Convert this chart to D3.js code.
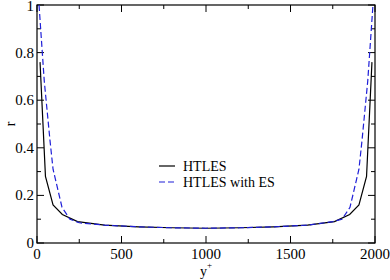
<!DOCTYPE html>
<html>
<head>
<meta charset="utf-8">
<script src="https://cdn.jsdelivr.net/npm/d3@7"></script>
<style>
  body { margin: 0; background: #fff; }
  svg text { font-family: 'Liberation Serif', 'Times New Roman', serif; }
</style>
</head>
<body>
<svg id="chart" width="390" height="280"></svg>
<script>
// y+ positions and r values
var htlesY = [18, 50, 95, 150, 240, 400, 600, 800, 1000, 1200, 1400, 1600, 1760, 1850, 1905, 1950, 1982]
var htlesR = [0.76, 0.28, 0.16, 0.12, 0.09, 0.075, 0.068, 0.064, 0.062, 0.064, 0.068, 0.075, 0.09, 0.12, 0.16, 0.28, 0.76]

var esY = [12, 43, 77, 95, 148, 195, 250, 400, 600, 800, 1000, 1200, 1400, 1600, 1750, 1805, 1852, 1905, 1923, 1957, 1988]
var esR = [1.0, 0.68, 0.43, 0.31, 0.15, 0.10, 0.085, 0.075, 0.068, 0.064, 0.062, 0.064, 0.068, 0.075, 0.09, 0.10, 0.15, 0.31, 0.43, 0.68, 1.0]

var xTicks = [0, 500, 1000, 1500, 2000]
var yTicks = [0, 0.2, 0.4, 0.6, 0.8, 1]
var seriesNames = ['HTLES', 'HTLES with ES']

var margin = {left: 37, right: 15, top: 5, bottom: 37}
var width = 390, height = 280
var serif = "'Liberation Serif', 'Times New Roman', serif"

var x = d3.scaleLinear().domain([0, 2000]).range([margin.left, width - margin.right])
var y = d3.scaleLinear().domain([0, 1]).range([height - margin.bottom, margin.top])

var svg = d3.select('#chart')

// frame
svg.append('rect')
    .attr('x', x(0)).attr('y', y(1))
    .attr('width', x(2000) - x(0)).attr('height', y(0) - y(1))
    .attr('fill', 'none').attr('stroke', '#000').attr('stroke-width', 1.2)

var xMinor = d3.range(0, 2001, 250)
var yMinor = d3.range(0, 1.001, 0.1)

function tickLen(v, step) { return Math.abs(v / step - Math.round(v / step)) < 1e-6 ? 7 : 4 }

// ticks, inward, on all four sides
var g = svg.append('g').attr('stroke', '#000').attr('stroke-width', 1)
xMinor.forEach(v => {
    var L = tickLen(v, 500)
    g.append('line').attr('x1', x(v)).attr('x2', x(v)).attr('y1', y(0)).attr('y2', y(0) - L)
    g.append('line').attr('x1', x(v)).attr('x2', x(v)).attr('y1', y(1)).attr('y2', y(1) + L)
})
yMinor.forEach(v => {
    var L = tickLen(v, 0.2)
    g.append('line').attr('x1', x(0)).attr('x2', x(0) + L).attr('y1', y(v)).attr('y2', y(v))
    g.append('line').attr('x1', x(2000)).attr('x2', x(2000) - L).attr('y1', y(v)).attr('y2', y(v))
})

// tick labels
svg.selectAll('.xlab').data(xTicks).join('text')
    .attr('class', 'xlab')
    .attr('x', d => x(d)).attr('y', y(0) + 16)
    .attr('text-anchor', 'middle')
    .style('font-family', serif).style('font-size', '15px')
    .text(d => d)

svg.selectAll('.ylab').data(yTicks).join('text')
    .attr('class', 'ylab')
    .attr('x', x(0) - 3).attr('y', d => Math.max(y(d) + 5, 11))
    .attr('text-anchor', 'end')
    .style('font-family', serif).style('font-size', '15px')
    .text(d => d)

// axis titles
svg.append('text').attr('x', 10).attr('y', y(0.5)).attr('text-anchor', 'middle')
    .attr('transform', 'rotate(-90,10,' + y(0.5) + ')')
    .attr('dy', '0.35em')
    .style('font-family', serif).style('font-size', '14px').text('r')

svg.append('text').attr('x', 200).attr('y', 276)
    .style('font-family', serif).style('font-size', '14px').text('y')
svg.append('text').attr('x', 207).attr('y', 268)
    .style('font-family', serif).style('font-size', '9px').text('+')

// lines
var line = d3.line().x(d => x(d[0])).y(d => y(d[1]))
var black = htlesY.map((v, i) => [v, htlesR[i]])
var blue = esY.map((v, i) => [v, esR[i]])

svg.append('clipPath').attr('id', 'clip')
    .append('rect').attr('x', x(0)).attr('y', y(1)).attr('width', x(2000) - x(0)).attr('height', y(0) - y(1))

svg.append('path').datum(black).attr('d', line)
    .attr('fill', 'none').attr('stroke', '#000').attr('stroke-width', 1.2)
    .attr('clip-path', 'url(#clip)')

svg.append('path').datum(blue).attr('d', line)
    .attr('fill', 'none').attr('stroke', '#1f1fd8').attr('stroke-width', 1.2)
    .attr('stroke-dasharray', '6,3')
    .attr('clip-path', 'url(#clip)')

// legend
var legend = svg.append('g').attr('transform', 'translate(159,166)')
legend.selectAll('line').data(seriesNames).join('line')
    .attr('x1', 0).attr('x2', 16)
    .attr('y1', (d, i) => i * 16).attr('y2', (d, i) => i * 16)
    .attr('stroke', (d, i) => i ? '#1f1fd8' : '#000')
    .attr('stroke-width', 1.2)
    .attr('stroke-dasharray', (d, i) => i ? '6,3' : null)
legend.selectAll('text').data(seriesNames).join('text')
    .attr('x', 24).attr('y', (d, i) => i * 16 + 4.5)
    .style('font-family', serif).style('font-size', '14px')
    .text(d => d)
</script>
</body>
</html>
